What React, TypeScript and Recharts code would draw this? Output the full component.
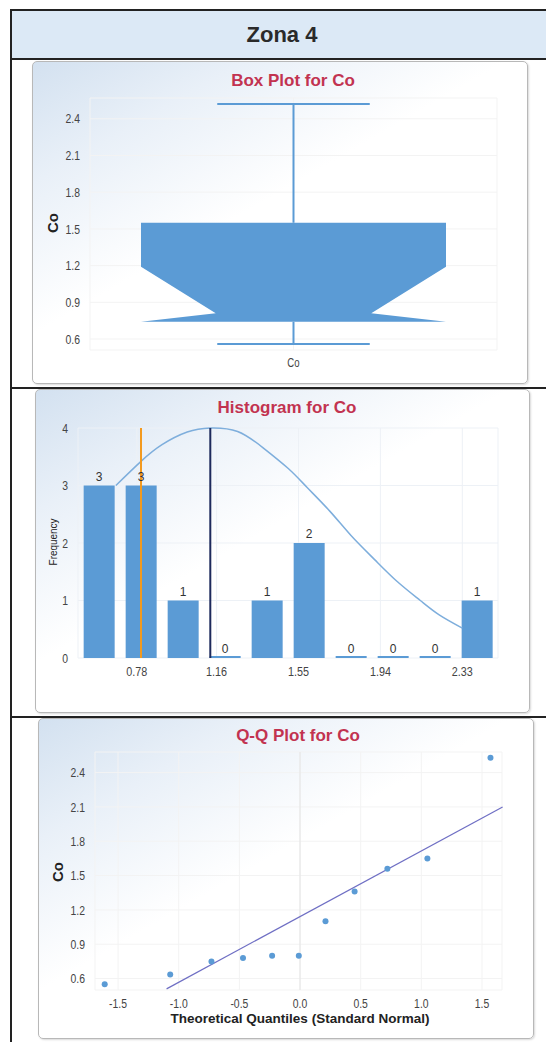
import React from 'react';
import {
  ComposedChart, Bar, Line, Scatter, XAxis, YAxis, CartesianGrid,
  ReferenceLine, LabelList,
} from 'recharts';

// box plot (Co): whisker low, Q1, median, notch top, Q3, whisker high
const boxCategories = ['Co'];
const boxStatNames = ['low', 'q1', 'median', 'notchHigh', 'q3', 'high'];
const boxStatValues = [0.56, 0.74, 0.81, 1.19, 1.55, 2.52];
const coTicks = [0.6, 0.9, 1.2, 1.5, 1.8, 2.1, 2.4];

// histogram
const binCenters = [0.6, 0.8, 1.0, 1.2, 1.4, 1.6, 1.8, 2.0, 2.2, 2.4];
const binCounts = [3, 3, 1, 0, 1, 2, 0, 0, 0, 1];
const histTicks = [0.78, 1.16, 1.55, 1.94, 2.33];
const freqTicks = [0, 1, 2, 3, 4];
const curveX = [0.68, 0.8, 0.9, 1.02, 1.13, 1.26, 1.38, 1.5, 1.59, 1.7, 1.8, 1.91, 2.02, 2.13, 2.22, 2.33];
const curveY = [3.0, 3.42, 3.71, 3.93, 4.0, 3.94, 3.66, 3.3, 2.97, 2.55, 2.13, 1.72, 1.33, 1.0, 0.75, 0.52];
const meanValue = 1.13;
const medianValue = 0.8;

// q-q plot
const qqTheoretical = [-1.61, -1.07, -0.73, -0.47, -0.23, -0.01, 0.21, 0.45, 0.72, 1.05, 1.57];
const qqSample = [0.55, 0.635, 0.75, 0.78, 0.8, 0.8, 1.1, 1.36, 1.56, 1.65, 2.53];
const qqLineX = [-1.1, 1.67];
const qqLineY = [0.51, 2.1];
const qqTicks = [-1.5, -1.0, -0.5, 0.0, 0.5, 1.0, 1.5];

const BLUE = '#5b9bd5';
const RED = '#c23350';
const SANS = "'Liberation Sans', Arial, sans-serif";

const stat = (name: string) => boxStatValues[boxStatNames.indexOf(name)];

const boxData = boxCategories.map((name) => ({
  name,
  range: [stat('low'), stat('high')],
  low: stat('low'), q1: stat('q1'), median: stat('median'),
  notchHigh: stat('notchHigh'), q3: stat('q3'), high: stat('high'),
}));

const histData = binCenters.map((x, i) => ({ x, count: binCounts[i] }));
const curveData = curveX.map((x, i) => ({ x, y: curveY[i] }));
const qqData = qqTheoretical.map((x, i) => ({ x, y: qqSample[i] }));

// condensed tick text (Arial Narrow look)
const narrowTick = (fmt: (v: number) => string, size: number, vertical: boolean) => (props: any) => {
  const { x, y, payload, textAnchor } = props;
  return (
    <text transform={`translate(${x},${y}) scale(0.8,1)`} textAnchor={textAnchor}
      dy={vertical ? '0.36em' : '0.75em'} fontSize={size} fill="#444" fontFamily={SANS}>
      {fmt(payload.value)}
    </text>
  );
};

// notched box drawn inside the bar's pixel span (low..high)
const NotchedBox = (props: any) => {
  const { x, y, width, height, payload } = props;
  const top = Math.min(y, y + height);
  const bottom = Math.max(y, y + height);
  const { low, high } = payload;
  const pix = (v: number) => bottom - ((v - low) / (high - low)) * (bottom - top);
  const cx = x + width / 2;
  const L = x, R = x + width;
  const inset = width * 0.245;
  const cap = width * 0.25;
  const pts = [
    [L, pix(payload.q3)], [R, pix(payload.q3)], [R, pix(payload.notchHigh)],
    [R - inset, pix(payload.median)], [R, pix(payload.q1)], [L, pix(payload.q1)],
    [L + inset, pix(payload.median)], [L, pix(payload.notchHigh)],
  ].map((p) => p.join(',')).join(' ');
  return (
    <g>
      <line x1={cx} x2={cx} y1={pix(high)} y2={pix(payload.q3)} stroke={BLUE} strokeWidth={2} />
      <line x1={cx} x2={cx} y1={pix(payload.q1)} y2={pix(low)} stroke={BLUE} strokeWidth={2} />
      <line x1={cx - cap} x2={cx + cap} y1={pix(high)} y2={pix(high)} stroke={BLUE} strokeWidth={2} />
      <line x1={cx - cap} x2={cx + cap} y1={pix(low)} y2={pix(low)} stroke={BLUE} strokeWidth={2} />
      <polygon points={pts} fill={BLUE} />
    </g>
  );
};

// histogram bar with fixed 31px width centred on the bin
const HistBar = (props: any) => {
  const { x, y, width, height } = props;
  const w = 31;
  const h = Math.max(Math.abs(height), 2);
  const top = height >= 2 ? y : y + height - h;
  return <rect x={x + width / 2 - w / 2} y={top} width={w} height={h} fill={BLUE} />;
};

const Panel: React.FC<{ left: number; top: number; width: number; height: number }> = ({ left, top, width, height }) => (
  <div style={{
    position: 'absolute', left, top, width, height, boxSizing: 'border-box',
    border: '1px solid #b8b8b8', borderRadius: 5,
    background: 'linear-gradient(150deg, #d3e1f0 0%, #e9f0f8 20%, #ffffff 45%)',
    boxShadow: '1px 1px 2px rgba(0,0,0,0.15)',
  }} />
);

const Title: React.FC<{ x: number; y: number; text: string }> = ({ x, y, text }) => (
  <div style={{
    position: 'absolute', left: x - 150, top: y - 11, width: 300, textAlign: 'center',
    fontFamily: SANS, fontWeight: 'bold', fontSize: 17, color: RED, lineHeight: '22px',
  }}>{text}</div>
);

const VLabel: React.FC<{ x: number; y: number; text: string; size: number; bold?: boolean }> = ({ x, y, text, size, bold }) => (
  <div style={{
    position: 'absolute', left: x - 60, top: y - 10, width: 120, height: 20, lineHeight: '20px',
    textAlign: 'center', transform: bold ? 'rotate(-90deg)' : 'rotate(-90deg) scaleX(0.9)', fontFamily: SANS, fontSize: size,
    fontWeight: bold ? 'bold' : 'normal', color: '#222',
  }}>{text}</div>
);

const f1 = (v: number) => v.toFixed(1);
const f2 = (v: number) => v.toFixed(2);
const f0 = (v: number) => String(v);

export default function App() {
  return (
    <div style={{ position: 'absolute', left: 0, top: 0, width: 546, height: 1042, background: '#fff', overflow: 'hidden' }}>
      {/* table frame */}
      <div style={{ position: 'absolute', left: 10, top: 9, width: 560, height: 51, background: '#dce9f6', borderTop: '2px solid #222', borderLeft: '2px solid #222', borderBottom: '2px solid #222', boxSizing: 'border-box' }} />
      <div style={{ position: 'absolute', left: 10, top: 9, width: 2, height: 1040, background: '#222' }} />
      <div style={{ position: 'absolute', left: 10, top: 387, width: 540, height: 2, background: '#222' }} />
      <div style={{ position: 'absolute', left: 10, top: 716, width: 540, height: 2, background: '#222' }} />
      <div style={{ position: 'absolute', left: 182, top: 21, width: 200, textAlign: 'center', fontFamily: SANS, fontWeight: 'bold', fontSize: 22, color: '#2a2a2a', lineHeight: '28px' }}>Zona 4</div>

      {/* box plot */}
      <Panel left={32} top={61} width={496} height={323} />
      <Title x={293} y={81} text="Box Plot for Co" />
      <VLabel x={53} y={223} text="Co" size={15} bold />
      <div style={{ position: 'absolute', left: 32, top: 61 }}>
        <ComposedChart width={496} height={323} data={boxData} margin={{ top: 37, right: 31, bottom: 14, left: 18 }}>
          <CartesianGrid stroke="#f3f3f3" />
          <XAxis dataKey="name" axisLine={false} tickLine={false} height={20}
            tick={narrowTick((v: any) => String(v), 12, false)} />
          <YAxis type="number" domain={[0.51, 2.57]} ticks={coTicks} axisLine={false} tickLine={false}
            tick={narrowTick(f1, 13, true)} tickMargin={4} width={40} />
          <Bar dataKey="range" barSize={305} shape={NotchedBox} isAnimationActive={false} />
        </ComposedChart>
      </div>

      {/* histogram */}
      <Panel left={35} top={389} width={495} height={324} />
      <Title x={287} y={408} text="Histogram for Co" />
      <VLabel x={53} y={542} text="Frequency" size={11} />
      <div style={{ position: 'absolute', left: 35, top: 389 }}>
        <ComposedChart width={495} height={324} data={histData} margin={{ top: 39, right: 32, bottom: 35, left: 13 }}>
          <CartesianGrid stroke="#edf1f6" />
          <XAxis dataKey="x" type="number" domain={[0.5, 2.5]} ticks={histTicks} axisLine={false} tickLine={false}
            height={20} tick={narrowTick(f2, 13.5, false)} />
          <YAxis type="number" domain={[0, 4]} ticks={freqTicks} axisLine={false} tickLine={false}
            tick={narrowTick(f0, 13, true)} tickMargin={4} width={30} />
          <Bar dataKey="count" fill={BLUE} shape={HistBar} isAnimationActive={false}>
            <LabelList dataKey="count" position="top" offset={5} style={{ fontSize: 12, fill: '#333', fontFamily: SANS }} />
          </Bar>
          <Line data={curveData} dataKey="y" type="natural" stroke="#7eaedc" strokeWidth={1.5} dot={false} isAnimationActive={false} />
          <ReferenceLine x={medianValue} stroke="#f39a1f" strokeWidth={2} />
          <ReferenceLine x={meanValue} stroke="#1e2a5c" strokeWidth={2} />
        </ComposedChart>
      </div>

      {/* q-q plot */}
      <Panel left={38} top={718} width={496} height={321} />
      <Title x={298} y={736} text="Q-Q Plot for Co" />
      <VLabel x={58} y={872} text="Co" size={15} bold />
      <div style={{ position: 'absolute', left: 38, top: 718 }}>
        <ComposedChart width={496} height={321} data={qqData} margin={{ top: 34, right: 32, bottom: 29, left: 17 }}>
          <CartesianGrid stroke="#f3f3f3" />
          <XAxis dataKey="x" type="number" domain={[-1.69, 1.665]} ticks={qqTicks} axisLine={false} tickLine={false}
            height={20} tick={narrowTick(f1, 13, false)} />
          <YAxis dataKey="y" type="number" domain={[0.5, 2.58]} ticks={coTicks} axisLine={false} tickLine={false}
            tick={narrowTick(f1, 13, true)} tickMargin={4} width={40} />
          <ReferenceLine x={0} stroke="#e4e4e4" />
          <ReferenceLine segment={[{ x: qqLineX[0], y: qqLineY[0] }, { x: qqLineX[1], y: qqLineY[1] }]} stroke="#6f6fc4" strokeWidth={1.2} ifOverflow="visible" />
          <Scatter data={qqData} fill={BLUE} shape={(p: any) => <circle cx={p.cx} cy={p.cy} r={3} fill={BLUE} />} isAnimationActive={false} />
        </ComposedChart>
      </div>
      <div style={{ position: 'absolute', left: 100, top: 1010, width: 400, textAlign: 'center', fontFamily: SANS, fontWeight: 'bold', fontSize: 13.5, color: '#222', lineHeight: '18px' }}>
        Theoretical Quantiles (Standard Normal)
      </div>
    </div>
  );
}
